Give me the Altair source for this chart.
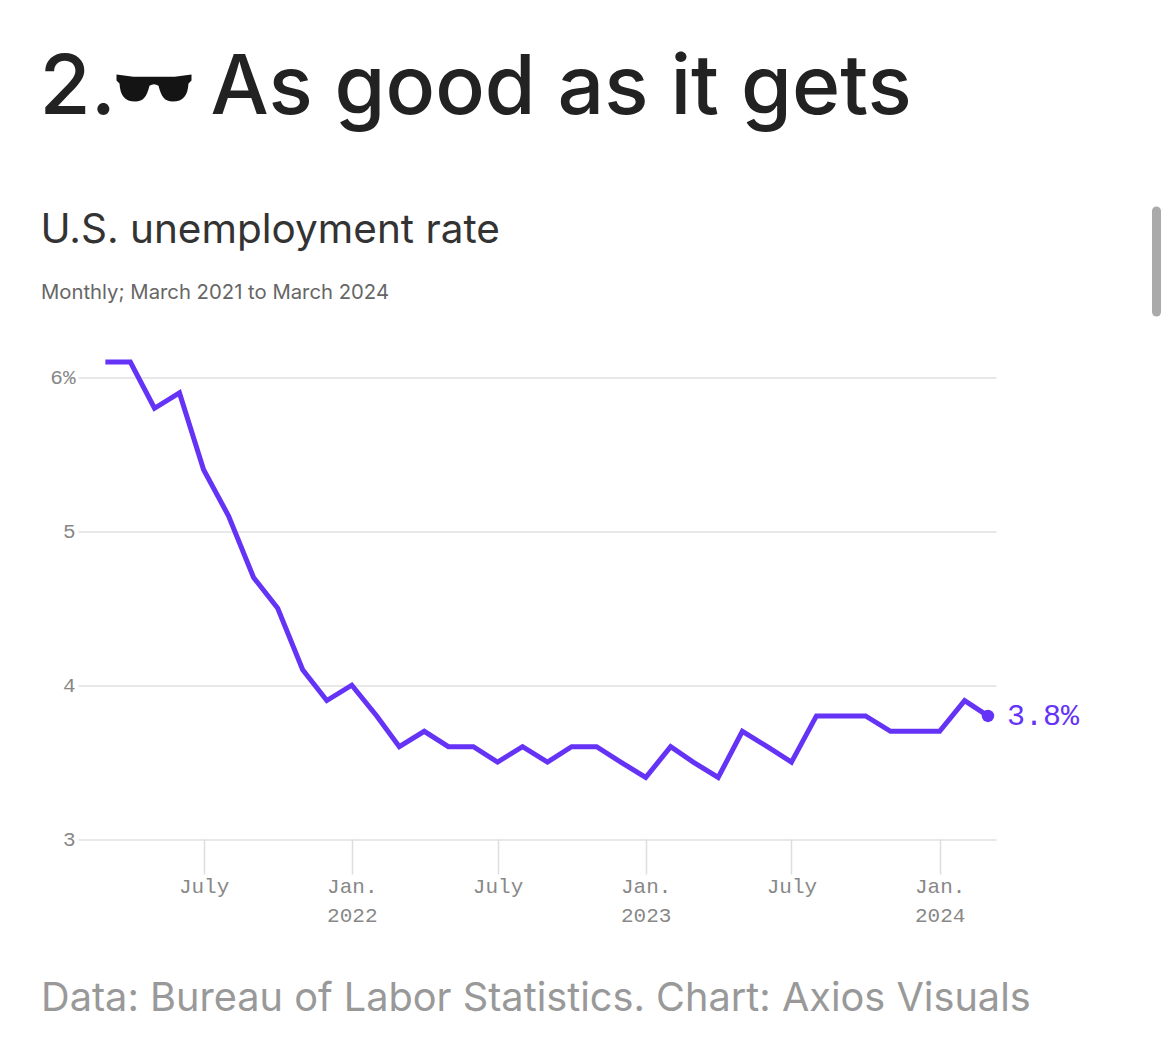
import altair as alt
import pandas as pd

months = pd.date_range("2021-03-01", "2024-03-01", freq="MS").strftime("%Y-%m-%d").tolist()
rates = [6.1, 6.1, 5.8, 5.9, 5.4, 5.1, 4.7, 4.5, 4.1, 3.9, 4.0, 3.8, 3.6,
         3.7, 3.6, 3.6, 3.5, 3.6, 3.5, 3.6, 3.6, 3.5, 3.4, 3.6, 3.5, 3.4,
         3.7, 3.6, 3.5, 3.8, 3.8, 3.8, 3.7, 3.7, 3.7, 3.9, 3.8]
x_ticks = ["2021-07-01", "2022-01-01", "2022-07-01", "2023-01-01", "2023-07-01", "2024-01-01"]
y_ticks = [3, 4, 5, 6]
headline = "As good as it gets"
subtitle = "U.S. unemployment rate"
dek = "Monthly; March 2021 to March 2024"
source = "Data: Bureau of Labor Statistics. Chart: Axios Visuals"

PURPLE = "#6433f5"
SANS = "Inter"
MONO = "Liberation Mono"

df = pd.DataFrame({"month": months, "rate": rates})
last = df.tail(1)

x = alt.X("month:T",
          scale=alt.Scale(type="utc", domain=["2021-01-26", "2024-03-11"]),
          axis=alt.Axis(title=None, grid=False, domain=False, tickCount=6,
                        values=[alt.DateTime(year=int(t[:4]), month=int(t[5:7]), date=1, utc=True) for t in x_ticks],
                        tickSize=35, tickColor="#dedede", tickWidth=1.5,
                        labelFont=MONO, labelFontSize=21, labelColor="#888888",
                        labelPadding=1, labelLineHeight=29, labelAngle=0, labelBaseline="top",
                        labelExpr="utcmonth(datum.value) == 6 ? 'July' : ['Jan.', '' + utcyear(datum.value)]"))
y = alt.Y("rate:Q",
          scale=alt.Scale(domain=[3, 6], nice=False, zero=False),
          axis=alt.Axis(title=None, values=y_ticks, grid=True, gridColor="#e0e0e0", gridWidth=1.5,
                        ticks=False, domain=False,
                        labelFont=MONO, labelFontSize=21, labelColor="#888888", labelPadding=3,
                        labelExpr="datum.value == 6 ? '6%' : datum.value"))

line = alt.Chart(df).mark_line(color=PURPLE, strokeWidth=5, strokeJoin="miter", clip=False).encode(x=x, y=y)
dot = alt.Chart(last).mark_circle(color=PURPLE, opacity=1, size=155, clip=False).encode(x=x, y=y)
label = alt.Chart(last).transform_calculate(label="format(datum.rate, '.1f') + '%'").mark_text(
    color=PURPLE, font=MONO, fontSize=30, align="left", baseline="middle", dx=19, clip=False
).encode(x=x, y=y, text="label:N")


def txt(text, px, py, size, color, weight=400):
    return alt.Chart(pd.DataFrame({"t": [text]})).mark_text(
        font=SANS, fontSize=size, color=color, align="left", baseline="alphabetic", fontWeight=weight
    ).encode(x=alt.value(px), y=alt.value(py), text="t:N")


OX, OY = 78, 377.5
texts = [
    txt("2.", 39.5 - OX, 114 - OY, 83, "#222222", 500),
    txt(headline, 210.5 - OX, 114 - OY, 82.2, "#222222", 500),
    txt(subtitle, 40.5 - OX, 243 - OY, 40.5, "#333333"),
    txt(dek, 41 - OX, 299 - OY, 20.3, "#666666"),
    txt(source, 41 - OX, 1011 - OY, 39.7, "#999999"),
]

GLASSES = ("M-1 -0.36 L-0.55 -0.3 L0.55 -0.3 L1 -0.36 L1 -0.2 L0.92 -0.12 C0.9 0.2 0.78 0.36 0.5 0.36 "
           "C0.28 0.36 0.2 0.24 0.12 -0.06 Q0 -0.14 -0.12 -0.06 C-0.2 0.24 -0.28 0.36 -0.5 0.36 "
           "C-0.78 0.36 -0.9 0.2 -0.92 -0.12 L-1 -0.2 Z")
glasses = alt.Chart(pd.DataFrame({"g": [1]})).mark_point(
    shape=GLASSES, filled=True, fill="#141414", stroke=None, opacity=1, size=5625
).encode(x=alt.value(154 - OX), y=alt.value(88 - OY))

scrollbar = alt.Chart(pd.DataFrame({"s": [1]})).mark_rule(
    color="#aaaaaa", strokeWidth=9, strokeCap="round"
).encode(x=alt.value(1156.5 - OX), y=alt.value(211 - OY), y2=alt.value(312 - OY))

chart = alt.layer(line, dot, label, *texts, glasses, scrollbar).properties(
    width=918, height=461.5,
    autosize=alt.AutoSizeParams(type="none"),
    padding={"left": 70, "top": 369.5, "right": 165, "bottom": 185},
    background="white",
).configure_view(stroke=None)

chart.save("out.html", embed_options={"renderer": "svg", "actions": False})
